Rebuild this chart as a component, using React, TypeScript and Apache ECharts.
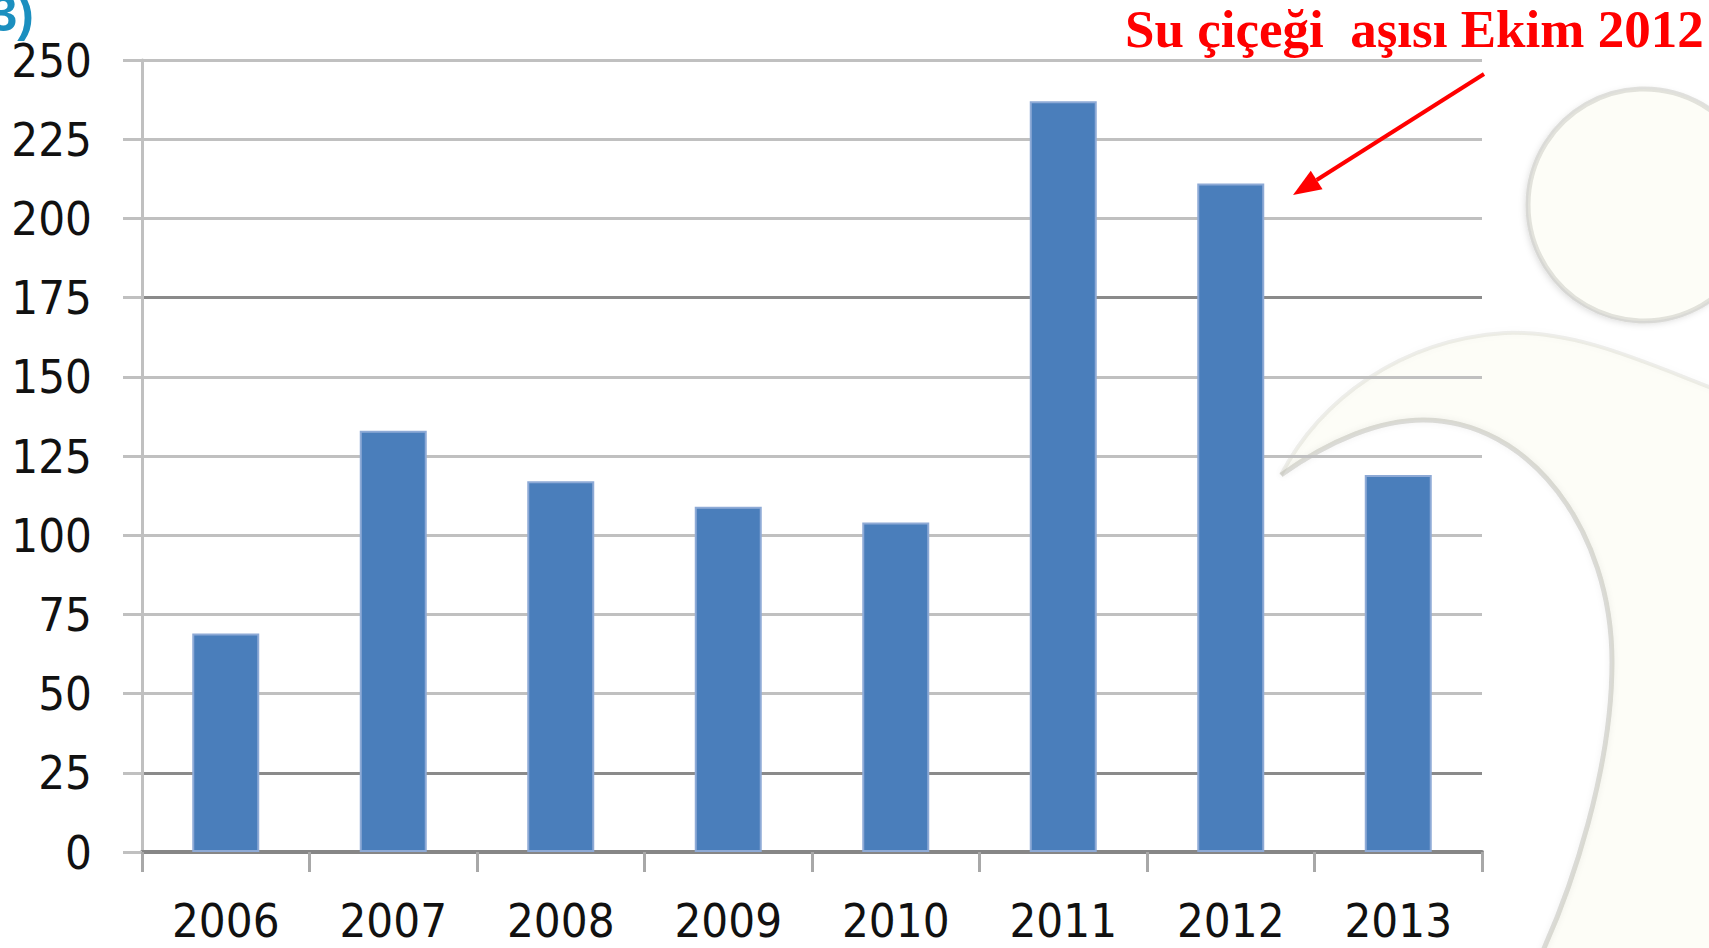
import React, { useEffect, useRef } from "react";
import * as echarts from "echarts";

const years: string[] = ["2006", "2007", "2008", "2009", "2010", "2011", "2012", "2013"];
const cases: number[] = [69, 133, 117, 109, 104, 237, 211, 119];
const yMin = 0;
const yMax = 250;
const yStep = 25;
const annotationText = "Su çiçeği  aşısı Ekim 2012";
const cornerText = "3)";

const LIGHT = "#c0c0c0";
const DARK = "#8a8a8a";
// split line colours from 0 upwards (0, 25, 50, ... 250)
const splitColors = [DARK, DARK, LIGHT, LIGHT, LIGHT, LIGHT, LIGHT, DARK, LIGHT, LIGHT, LIGHT];

// faint watermark figure (background decoration)
const outerEdge = "M 1281 475 C 1320 400 1400 340 1505 333 C 1580 330 1650 365 1730 395";
const innerEdge =
  "M 1281 475 C 1330 440 1380 420 1423 420 C 1530 420 1612 530 1612 662 C 1612 772 1570 890 1545 946 L 1525 995";
const bodyFill =
  "M 1281 475 C 1320 400 1400 340 1505 333 C 1580 330 1650 365 1730 395 L 1730 995 L 1525 995 L 1545 946 C 1570 890 1612 772 1612 662 C 1612 530 1530 420 1423 420 C 1380 420 1330 440 1281 475 Z";

let registered = false;
function registerShapes() {
  if (registered) return;
  echarts.graphic.registerShape("wmBody", echarts.graphic.extendPath(bodyFill, {}) as any);
  echarts.graphic.registerShape("wmOuter", echarts.graphic.extendPath(outerEdge, {}) as any);
  echarts.graphic.registerShape("wmInner", echarts.graphic.extendPath(innerEdge, {}) as any);
  registered = true;
}

function arrowHead(x1: number, y1: number, x2: number, y2: number, len: number, half: number) {
  const dx = x2 - x1;
  const dy = y2 - y1;
  const l = Math.sqrt(dx * dx + dy * dy);
  const ux = dx / l;
  const uy = dy / l;
  const bx = x2 - ux * len;
  const by = y2 - uy * len;
  const nx = -uy;
  const ny = ux;
  return {
    base: [bx, by],
    points: [
      [x2, y2],
      [bx + nx * half, by + ny * half],
      [bx - nx * half, by - ny * half],
    ],
  };
}

export default function App() {
  const ref = useRef<HTMLDivElement>(null);

  useEffect(() => {
    if (!ref.current) return;
    registerShapes();
    const chart = echarts.init(ref.current, undefined, { renderer: "svg" });

    const start = [1484, 74];
    const tip = [1293, 195];
    const head = arrowHead(start[0], start[1], tip[0], tip[1], 28, 11);

    const labelFont = "'Liberation Sans Narrow', 'DejaVu Sans Condensed', 'Liberation Sans', sans-serif";
    const cream = "#fdfdf7";

    chart.setOption({
      animation: false,
      backgroundColor: "#ffffff",
      grid: { left: 142, right: 227, top: 60, bottom: 96, containLabel: false },
      xAxis: {
        type: "category",
        data: years,
        boundaryGap: true,
        axisLine: { show: true, lineStyle: { color: "#868686", width: 4 } },
        axisTick: { show: true, alignWithLabel: false, length: 20, lineStyle: { color: "#a8a8a8", width: 3 } },
        axisLabel: { margin: 45, fontSize: 47, color: "#111111", fontFamily: labelFont },
        splitLine: { show: false },
      },
      yAxis: {
        type: "value",
        min: yMin,
        max: yMax,
        interval: yStep,
        axisLine: { show: true, lineStyle: { color: LIGHT, width: 3 } },
        axisTick: { show: true, length: 19, lineStyle: { color: LIGHT, width: 3 } },
        axisLabel: { margin: 50, fontSize: 47, color: "#111111", fontFamily: labelFont },
        splitLine: { show: true, lineStyle: { color: splitColors, width: 3 } },
      },
      series: [
        {
          type: "bar",
          data: cases,
          barWidth: "40%",
          itemStyle: { color: "#4a7ebb", borderColor: "#8eaad6", borderWidth: 2 },
          z: 3,
        },
      ],
      graphic: [
        {
          type: "wmBody",
          z: -10,
          silent: true,
          style: { fill: cream, stroke: null },
        },
        {
          type: "wmOuter",
          z: -9,
          silent: true,
          style: {
            fill: null,
            stroke: "rgba(200,200,190,0.3)",
            lineWidth: 4,
            shadowBlur: 6,
            shadowColor: "rgba(0,0,0,0.08)",
          },
        },
        {
          type: "wmInner",
          z: -9,
          silent: true,
          style: {
            fill: null,
            stroke: "rgba(170,170,160,0.4)",
            lineWidth: 5,
            shadowBlur: 6,
            shadowColor: "rgba(0,0,0,0.15)",
          },
        },
        {
          type: "circle",
          z: -9,
          silent: true,
          shape: { cx: 1644, cy: 205, r: 116 },
          style: {
            fill: cream,
            stroke: "rgba(175,175,165,0.35)",
            lineWidth: 5,
            shadowBlur: 6,
            shadowOffsetX: -2,
            shadowOffsetY: 2,
            shadowColor: "rgba(0,0,0,0.15)",
          },
        },
        {
          type: "text",
          z: 100,
          x: 1125,
          y: 29,
          style: {
            text: annotationText,
            fill: "#ff0000",
            font: "bold 53px 'Liberation Serif', 'Times New Roman', serif",
            textAlign: "left",
            verticalAlign: "middle",
          },
        },
        {
          type: "line",
          z: 100,
          shape: { x1: start[0], y1: start[1], x2: head.base[0], y2: head.base[1] },
          style: { stroke: "#ff0000", lineWidth: 4 },
        },
        {
          type: "polygon",
          z: 100,
          shape: { points: head.points },
          style: { fill: "#ff0000" },
        },
        {
          type: "text",
          z: 100,
          x: 34,
          y: 14,
          style: {
            text: cornerText,
            fill: "#1b8fbf",
            font: "bold 50px 'Liberation Sans', sans-serif",
            textAlign: "right",
            verticalAlign: "middle",
          },
        },
      ],
    });

    return () => {
      chart.dispose();
    };
  }, []);

  return (
    <div
      ref={ref}
      style={{ position: "fixed", left: 0, top: 0, width: 1709, height: 948, overflow: "hidden", background: "#fff" }}
    />
  );
}
